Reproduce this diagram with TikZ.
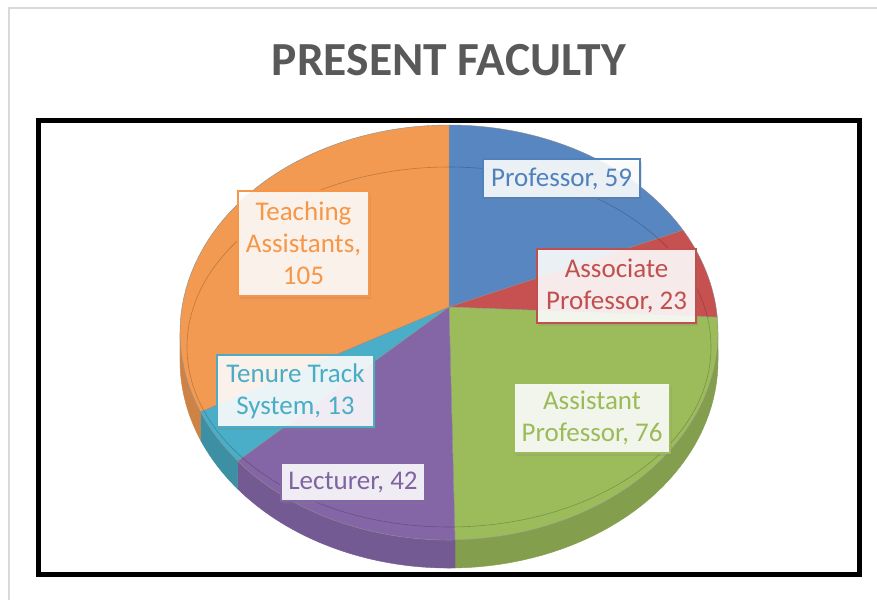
\documentclass[tikz,border=0pt]{standalone}
\usepackage{fontspec}
\setmainfont{Carlito}
\usetikzlibrary{shadows}
\definecolor{cprof}{HTML}{5886C1}
\definecolor{cassoc}{HTML}{C65150}
\definecolor{casst}{HTML}{9CBC5B}
\definecolor{clect}{HTML}{8466A6}
\definecolor{cten}{HTML}{4AAEC8}
\definecolor{cteach}{HTML}{F29A52}
\definecolor{tprof}{HTML}{4F81BD}
\definecolor{tassoc}{HTML}{C0504D}
\definecolor{tasst}{HTML}{9BBB59}
\definecolor{tlect}{HTML}{8064A2}
\definecolor{tten}{HTML}{4BACC6}
\definecolor{tteach}{HTML}{F79646}
\definecolor{titlegray}{HTML}{595959}
\definecolor{framegray}{HTML}{D9D9D9}
\pgfmathdeclarefunction{PX}{1}{\pgfmathparse{449+267*cos(#1)/(1+0.123*sin(#1))}}
\pgfmathdeclarefunction{PY}{1}{\pgfmathparse{307-204.4*sin(#1)/(1+0.123*sin(#1))}}
\newcommand\topslice[3]{%
  \filldraw[fill=#1, draw=black!45, line width=0.4pt, line join=round]
    (449,307) -- plot[domain=#2:#3, samples=50] ({PX(\x)},{PY(\x)}) -- cycle;}
\newcommand\sideslice[3]{%
  \filldraw[fill=#1, draw=#1, line width=0.4pt, line join=round]
    plot[domain=#2:#3, samples=40] ({PX(\x)},{PY(\x)})
    -- plot[domain=0:1, samples=40] ({PX((#3)+((#2)-(#3))*\x)},{PY((#3)+((#2)-(#3))*\x)+28}) -- cycle;}
\tikzset{
  lbl/.style={draw=t#1, line width=1.6pt, fill=white, fill opacity=0.88, text opacity=1,
    text=t#1, font=\fontsize{27}{32}\selectfont, align=center, inner sep=0pt,
    drop shadow={opacity=0.2, shadow xshift=2pt, shadow yshift=-3pt}},
}
\begin{document}
\begin{tikzpicture}[x=1pt, y=-1pt]
\useasboundingbox (0,0) rectangle (877,600);
\fill[white] (0,0) rectangle (877,600);
% outer gray frame
\draw[framegray, line width=2pt] (8.5,600) -- (8.5,7.5) -- (877,7.5);
% title
\node[font=\fontsize{47.5}{52}\selectfont\bfseries, text=titlegray] (title) at (449,60) {PRESENT FACULTY};
% side walls
\sideslice{casst!84!black}{-88.87}{-7}
\sideslice{clect!88!black}{-136.42}{-88.87}
\sideslice{cten!82!black}{-151.13}{-136.42}
\sideslice{cteach!85!black}{-173}{-151.13}
% top surfaces
\topslice{cprof}{23.21}{90}
\topslice{cassoc}{-2.83}{23.21}
\topslice{casst}{-88.87}{-2.83}
\topslice{clect}{-136.42}{-88.87}
\topslice{cten}{-151.13}{-136.42}
\topslice{cteach}{90}{208.87}
% bevel line
\draw[black, opacity=0.22, line width=0.6pt] (449,347) ellipse [x radius=262, y radius=180];
% labels
\node[lbl=prof, minimum width=157pt, minimum height=39pt] (lprof) at (561.5,178.5) {Professor, 59};
\node[lbl=assoc, minimum width=159pt, minimum height=74pt] (lassoc) at (616.5,286) {Associate\\Professor, 23};
\node[lbl=asst, draw=casst, minimum width=156pt, minimum height=70pt] (lasst) at (592,418) {Assistant\\Professor, 76};
\node[lbl=teach, minimum width=131pt, minimum height=105pt] (lteach) at (303.5,243.5) {Teaching\\Assistants,\\105};
\node[lbl=ten, minimum width=157pt, minimum height=72pt] (lten) at (295.5,391) {Tenure Track\\System, 13};
\node[lbl=lect, draw=clect, minimum width=144pt, minimum height=38pt] (llect) at (353,482) {Lecturer, 42};
% black frame
\draw[black, line width=5pt] (38.5,120) rectangle (859.5,574.5);
\end{tikzpicture}
\end{document}
